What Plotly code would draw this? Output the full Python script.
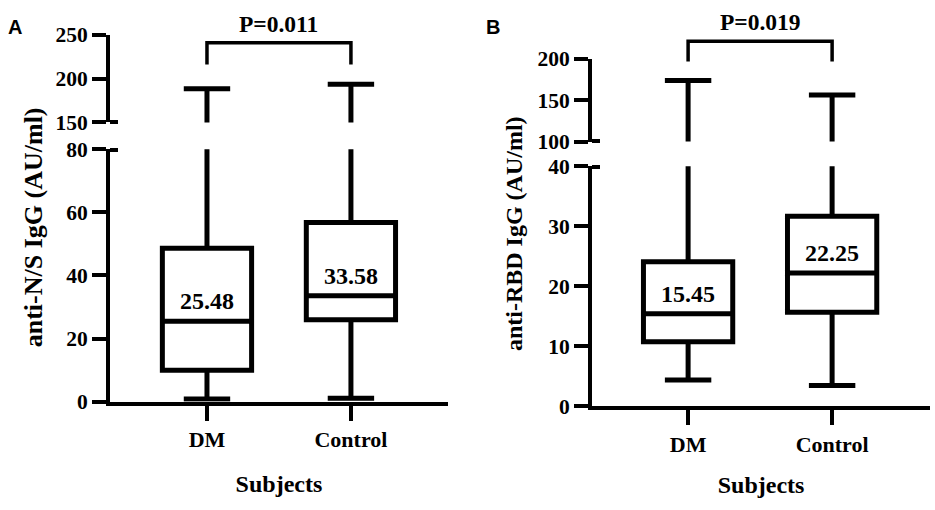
import plotly.graph_objects as go

# groups on the x axis
groups = ["DM", "Control"]

# panel A - anti-N/S IgG (AU/ml), box statistics
ns_min = [0.9, 1.1]
ns_q1 = [10.0, 26.0]
ns_median = [25.48, 33.58]
ns_q3 = [48.6, 56.8]
ns_max = [188.5, 193.5]
ns_p_text = "P=0.011"
ns_bracket = [216, 241]   # bracket foot / bracket top

# panel B - anti-RBD IgG (AU/ml)
rbd_min = [4.4, 3.5]
rbd_q1 = [10.8, 15.7]
rbd_median = [15.45, 22.25]
rbd_q3 = [24.1, 31.7]
rbd_max = [173.5, 156.0]
rbd_p_text = "P=0.019"
rbd_bracket = [196.5, 221]

# broken y axes: lower and upper segment
ns_low_ticks = [0, 20, 40, 60, 80]
ns_high_ticks = [150, 200, 250]
rbd_low_ticks = [0, 10, 20, 30, 40]
rbd_high_ticks = [100, 150, 200]

serif = "Liberation Serif"
tick_font = dict(family=serif, size=21.5, color="black", weight="bold")

panels = [
    dict(letter="A", title="anti-N/S IgG (AU/ml)", x="x", ylo="y", yhi="y2", ybr="y5",
         xdom=[0.1176, 0.4791], lodom=[0.196, 0.7157], hidom=[0.7706, 0.951],
         xr=[-0.674, 1.674], lo=ns_low_ticks, hi=ns_high_ticks,
         mn=ns_min, q1=ns_q1, med=ns_median, q3=ns_q3, mx=ns_max,
         p=ns_p_text, br=ns_bracket, title_x=0.0358, title_y=0.556, title_size=26,
         letter_x=0.016, standoff=25),
    dict(letter="B", title="anti-RBD IgG (AU/ml)", x="x2", ylo="y3", yhi="y4", ybr="y6",
         xdom=[0.6332, 0.9947], lodom=[0.1863, 0.6804], hidom=[0.7314, 0.902],
         xr=[-0.667, 1.68], lo=rbd_low_ticks, hi=rbd_high_ticks,
         mn=rbd_min, q1=rbd_q1, med=rbd_median, q3=rbd_q3, mx=rbd_max,
         p=rbd_p_text, br=rbd_bracket, title_x=0.5497, title_y=0.543, title_size=24,
         letter_x=0.527, standoff=21),
]


def ax_name(ref):
    return ref.replace("x", "xaxis").replace("y", "yaxis")


def y_axis(dom, ticks, anchor, break_at, break_side):
    span = ticks[-1] - ticks[0]
    nudge = 0.002 * span * break_side
    return dict(
        domain=dom, range=[ticks[0], ticks[-1]], anchor=anchor,
        tickmode="array", tickvals=ticks, ticks="outside", ticklen=14, tickwidth=4,
        tickcolor="black", showline=True, linewidth=4, linecolor="black",
        showgrid=False, zeroline=False, tickfont=tick_font,
        minor=dict(tickmode="array", tickvals=[break_at + nudge], ticks="inside",
                   ticklen=8, tickwidth=4, tickcolor="black", showgrid=False),
    )


fig = go.Figure()
annotations = []

for pn in panels:
    # box + whiskers, drawn on both segments of the broken axis
    for yref in (pn["ylo"], pn["yhi"]):
        fig.add_trace(go.Box(
            x=groups, q1=pn["q1"], median=pn["med"], q3=pn["q3"],
            lowerfence=pn["mn"], upperfence=pn["mx"],
            xaxis=pn["x"], yaxis=yref, width=0.62, whiskerwidth=0.52,
            fillcolor="white", line=dict(color="black", width=5),
            boxpoints=False, showlegend=False, hoverinfo="skip",
        ))

    # significance bracket
    foot, top = pn["br"]
    fig.add_trace(go.Scatter(
        x=[groups[0], groups[0], groups[1], groups[1]], y=[foot, top, top, foot],
        mode="lines", line=dict(color="black", width=3.5),
        xaxis=pn["x"], yaxis=pn["ybr"], showlegend=False, hoverinfo="skip",
    ))

    # axes
    hi = pn["hi"]
    hd = pn["hidom"]
    br_top = hi[0] + (1 - hd[0]) / (hd[1] - hd[0]) * (hi[-1] - hi[0])
    fig.update_layout({
        ax_name(pn["x"]): dict(
            domain=pn["xdom"], range=pn["xr"], anchor=pn["ylo"], type="category",
            showline=True, linewidth=4, linecolor="black", ticks="outside",
            ticklen=15, tickwidth=4, tickcolor="black", showgrid=False,
            tickfont=dict(family=serif, size=22, color="black", weight="bold"),
            title=dict(text="Subjects", standoff=pn["standoff"],
                       font=dict(family=serif, size=24, color="black", weight="bold")),
        ),
        ax_name(pn["ylo"]): y_axis(pn["lodom"], pn["lo"], pn["x"], pn["lo"][-1], -1),
        ax_name(pn["yhi"]): y_axis(pn["hidom"], pn["hi"], pn["x"], pn["hi"][0], 1),
        ax_name(pn["ybr"]): dict(domain=[hd[0], 1.0], range=[hi[0], br_top],
                                 anchor=pn["x"], visible=False),
    })

    # median labels
    for g, m in zip(groups, pn["med"]):
        annotations.append(dict(
            x=g, y=m, xref=pn["x"], yref=pn["ylo"], text=f"{m:.2f}",
            showarrow=False, yanchor="bottom", yshift=5,
            font=dict(family=serif, size=24, color="black", weight="bold"),
        ))
    # p value
    annotations.append(dict(
        x=0.5, y=top, xref=pn["x"], yref=pn["ybr"], text=pn["p"],
        showarrow=False, yanchor="bottom", yshift=4,
        font=dict(family=serif, size=23.5, color="black", weight="bold"),
    ))
    # y axis title
    annotations.append(dict(
        x=pn["title_x"], y=pn["title_y"], xref="paper", yref="paper",
        xanchor="center", yanchor="middle",
        text=pn["title"], textangle=-90, showarrow=False,
        font=dict(family=serif, size=pn["title_size"], color="black", weight="bold"),
    ))
    # panel letter
    annotations.append(dict(
        x=pn["letter_x"], y=0.967, xref="paper", yref="paper", text=pn["letter"],
        xanchor="center", yanchor="middle", showarrow=False,
        font=dict(family="Liberation Sans", size=20, color="black", weight="bold"),
    ))

fig.update_layout(
    width=935, height=510,
    margin=dict(l=0, r=0, t=0, b=0),
    paper_bgcolor="white", plot_bgcolor="rgba(0,0,0,0)",
    annotations=annotations,
    showlegend=False,
)

# drop the default page margin so the figure sits at the window's corner
fig.write_html("out.html", config={"displayModeBar": False},
               post_script="document.body.style.margin = '0';")
